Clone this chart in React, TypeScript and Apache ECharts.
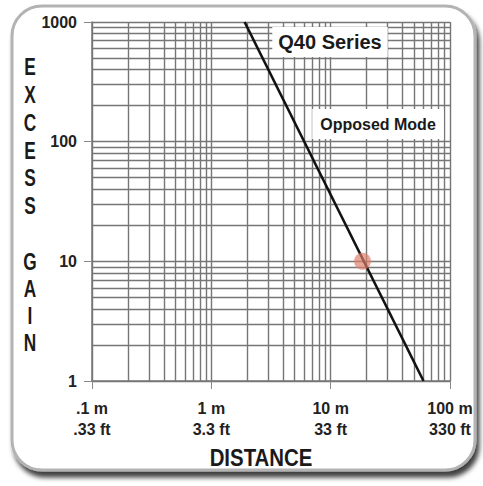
import React, { useEffect, useRef } from "react";
import * as echarts from "echarts";

// ---- data ----
const xMajor = [0.1, 1, 10, 100];
const xLabelMeters = [".1 m", "1 m", "10 m", "100 m"];
const xLabelFeet = [".33 ft", "3.3 ft", "33 ft", "330 ft"];
const yMajorLabels = ["1", "10", "100", "1000"];
const xMinor = [
  0.2, 0.3, 0.4, 0.5, 0.6, 0.7, 0.8, 0.9,
  2, 3, 4, 5, 6, 7, 8, 9,
  20, 30, 40, 50, 60, 70, 80, 90,
];
const yMinor = [
  2, 3, 4, 5, 6, 7, 8, 9,
  20, 30, 40, 50, 60, 70, 80, 90,
  200, 300, 400, 500, 600, 700, 800, 900,
];
const q40Line = [
  [1.9, 1000],
  [60, 1],
];
const markerPoint = [[18.5, 10]];
const yTitleLetters = ["E", "X", "C", "E", "S", "S", "G", "A", "I", "N"];
const yTitleCenters = [66, 94, 122, 150, 177, 205, 261, 288, 315, 342];

const FONT = "'Liberation Sans', Arial, sans-serif";

export default function App() {
  const ref = useRef<HTMLDivElement>(null);
  useEffect(() => {
    if (!ref.current) return;
    const chart = echarts.init(ref.current, null, { renderer: "svg" });
    const gridColor = "#767676";
    const option: any = {
      animation: false,
      backgroundColor: "transparent",
      grid: { left: 92, top: 22, right: 33, bottom: 105 },
      xAxis: {
        type: "log",
        logBase: 10,
        min: 0.1,
        max: 100,
        axisLine: { show: true, lineStyle: { color: "#777", width: 1.5 } },
        axisTick: { show: true, inside: false, length: 8, lineStyle: { color: "#888" } },
        axisLabel: {
          margin: 17,
          fontFamily: FONT,
          fontWeight: "bold",
          fontSize: 16,
          lineHeight: 21,
          color: "#222",
          formatter: (v: number) => {
            const i = xMajor.findIndex((m) => Math.abs(Math.log10(m) - Math.log10(v)) < 1e-6);
            return i >= 0 ? xLabelMeters[i] + "\n" + xLabelFeet[i] : "";
          },
        },
        splitLine: { show: true, lineStyle: { color: gridColor, width: 1.4 } },
        minorTick: { show: false },
      },
      yAxis: {
        type: "log",
        logBase: 10,
        min: 1,
        max: 1000,
        axisLine: { show: true, lineStyle: { color: "#777", width: 1.5 } },
        axisTick: { show: true, inside: false, length: 8, lineStyle: { color: "#888" } },
        axisLabel: {
          margin: 15,
          fontFamily: FONT,
          fontWeight: "bold",
          fontSize: 16,
          color: "#222",
          formatter: (v: number) => {
            const i = Math.round(Math.log10(v));
            return yMajorLabels[i] ?? "";
          },
        },
        splitLine: { show: true, lineStyle: { color: gridColor, width: 1.4 } },
      },
      series: [
        {
          type: "line",
          data: [],
          z: 1,
          silent: true,
          markLine: {
            silent: true,
            symbol: ["none", "none"],
            label: { show: false },
            emphasis: { disabled: true },
            lineStyle: { type: "solid", color: gridColor, width: 1.4 },
            data: [
              ...xMinor.map((v) => ({ xAxis: v })),
              ...yMinor.map((v) => ({ yAxis: v })),
            ],
          },
        },
        {
          type: "line",
          data: q40Line,
          z: 5,
          symbol: "none",
          lineStyle: { color: "#111", width: 2.6 },
        },
        {
          type: "scatter",
          data: markerPoint,
          z: 6,
          symbolSize: 17,
          itemStyle: { color: "rgba(222,125,105,0.85)" },
        },
      ],
      graphic: [
        {
          type: "rect",
          z: -100,
          shape: { x: 12, y: 6, width: 463, height: 464, r: 30 },
          style: {
            fill: "#fff",
            stroke: "#b3b3b3",
            lineWidth: 3,
            shadowBlur: 5,
            shadowOffsetX: 3,
            shadowOffsetY: 6,
            shadowColor: "rgba(0,0,0,0.75)",
          },
        },
        {
          type: "text",
          z: 100,
          x: 330,
          y: 42,
          style: {
            text: "Q40 Series",
            fontFamily: FONT,
            fontWeight: "bold",
            fontSize: 20,
            fill: "#1a1a1a",
            align: "center",
            verticalAlign: "middle",
            backgroundColor: "#fff",
            padding: [5, 6],
          },
        },
        {
          type: "text",
          z: 100,
          x: 378,
          y: 124,
          style: {
            text: "Opposed Mode",
            fontFamily: FONT,
            fontWeight: "bold",
            fontSize: 16,
            fill: "#1a1a1a",
            align: "center",
            verticalAlign: "middle",
            backgroundColor: "#fff",
            padding: [7, 8],
          },
        },
        ...yTitleLetters.map((ch, i) => ({
          type: "text",
          z: 100,
          x: 30,
          y: yTitleCenters[i],
          scaleX: 0.72,
          style: {
            text: ch,
            fontFamily: FONT,
            fontWeight: "bold",
            fontSize: 24,
            fill: "#1a1a1a",
            align: "center",
            verticalAlign: "middle",
          },
        })),
        {
          type: "text",
          z: 100,
          x: 261,
          y: 458,
          scaleX: 0.85,
          style: {
            text: "DISTANCE",
            fontFamily: FONT,
            fontWeight: "bold",
            fontSize: 24,
            fill: "#1a1a1a",
            align: "center",
            verticalAlign: "middle",
          },
        },
      ],
    };
    chart.setOption(option);
    return () => chart.dispose();
  }, []);
  return (
    <div
      ref={ref}
      style={{ position: "fixed", left: 0, top: 0, width: 483, height: 486, background: "#fff" }}
    />
  );
}
